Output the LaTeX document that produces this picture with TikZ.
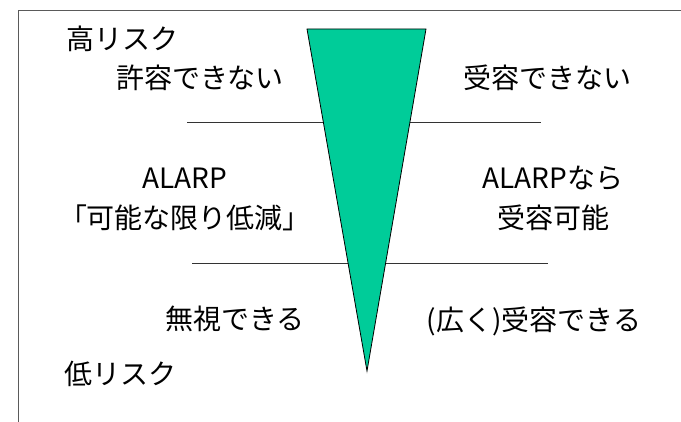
\documentclass[tikz,border=0pt]{standalone}
\usepackage{fontspec}
\setmainfont{Noto Sans CJK JP}
\definecolor{riskgreen}{RGB}{0,204,153}
\definecolor{framegray}{RGB}{90,90,90}
\begin{document}
\begin{tikzpicture}[x=1pt,y=-1pt,
  lbl/.style={font=\fontsize{28}{32}\selectfont, inner sep=0pt, text=black},
  frameline/.style={draw=framegray, line width=1pt},
  sepline/.style={draw=black!80, line width=0.9pt}]
\useasboundingbox (0,0) rectangle (681,422);
% frame
\coordinate (fTR) at (681,11);
\coordinate (fTL) at (18,11);
\coordinate (fBL) at (18,422);
\draw[frameline] (fTR) -- (fTL) -- (fBL);
% separator lines
\coordinate (s1a) at (187,122);
\coordinate (s1b) at (541,122);
\coordinate (s2a) at (192,263);
\coordinate (s2b) at (548,263);
\draw[sepline] (s1a) -- (s1b);
\draw[sepline] (s2a) -- (s2b);
% triangle
\coordinate (tL) at (307,29);
\coordinate (tR) at (426,29);
\coordinate (tB) at (367,371);
\draw[fill=riskgreen, draw=black, line width=0.8pt] (tL) -- (tR) -- (tB) -- cycle;
% labels
\node[lbl, anchor=west] (high) at (66,39) {高リスク};
\node[lbl] (na1) at (200,78) {許容できない};
\node[lbl] (na2) at (547,78) {受容できない};
\node[lbl] (al1) at (185,178) {ALARP};
\node[lbl] (al2) at (185,218) {「可能な限り低減」};
\node[lbl] (ar1) at (553,178) {ALARPなら};
\node[lbl] (ar2) at (553,218) {受容可能};
\node[lbl] (bl) at (235,319) {無視できる};
\node[lbl] (br) at (534,321) {(広く)受容できる};
\node[lbl, anchor=west] (low) at (64,374) {低リスク};
\end{tikzpicture}
\end{document}
